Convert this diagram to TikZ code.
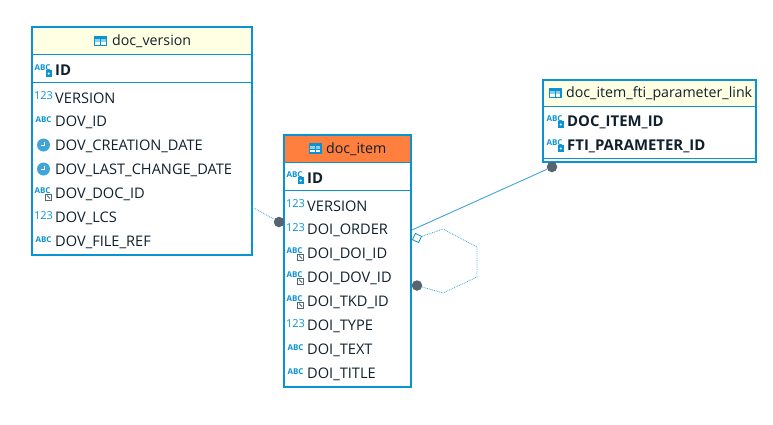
\documentclass[tikz,border=0pt]{standalone}
\usepackage{fontspec}
\setmainfont{Open Sans}
\usetikzlibrary{shapes.geometric}
\definecolor{erblue}{HTML}{0A93D1}
\definecolor{erline}{HTML}{3FA4D8}
\definecolor{eryellow}{HTML}{FFFFE3}
\definecolor{erorange}{HTML}{FF7F3F}
\definecolor{erdot}{HTML}{566470}
\definecolor{ertext}{HTML}{10202C}
\tikzset{
    box/.style={draw=erblue,line width=2pt},
    rowline/.style={draw=erblue,line width=1pt},
    field/.style={anchor=west,inner sep=0pt,text=ertext,font=\fontsize{14.6}{14}\selectfont},
    keyfield/.style={field,font=\fontsize{14.9}{14}\selectfont\bfseries},
    title/.style={inner sep=0pt,text=ertext,font=\fontsize{14.2}{14}\selectfont},
    tag/.style={inner sep=0pt,text=erblue,font=\fontsize{8}{8}\selectfont\bfseries},
    numtag/.style={inner sep=0pt,text=erblue,font=\fontsize{11}{11}\selectfont},
    link/.style={draw=erline,line width=.9pt},
    dottedlink/.style={draw=erline,line width=.8pt,densely dotted},
    enddot/.style={circle,fill=erdot,inner sep=0pt,minimum size=10.5pt},
    enddiamond/.style={diamond,draw=erblue,fill=white,line width=.8pt,inner sep=0pt,minimum size=10pt,rotate=20},
}
% small glyphs in front of the names
\newcommand{\tableicon}[1]{
    \fill[erblue] (#1) ++(-6.5,-5.5) rectangle ++(13,10.5);
    \fill[white!55!erblue] (#1) ++(-5.2,-2.5) rectangle ++(4.7,3);
    \fill[white!55!erblue] (#1) ++(.5,-2.5) rectangle ++(4.7,3);
    \fill[white] (#1) ++(-5.2,1.3) rectangle ++(4.7,2.5);
    \fill[white] (#1) ++(.5,1.3) rectangle ++(4.7,2.5);
}
\newcommand{\abcicon}[1]{\node[tag] at (#1) {ABC};}
\newcommand{\numicon}[1]{\node[numtag] at (#1) {123};}
\newcommand{\keyicon}[1]{
    \node[tag] at ([shift={(-.5,-2.5)}]#1) {ABC};
    \fill[erblue] (#1) ++(2.5,0) rectangle ++(6.5,7);
    \fill[white] (#1) ++(5.7,3.5) circle (1.2);
}
\newcommand{\fkicon}[1]{
    \node[tag] at ([shift={(-.5,-2.5)}]#1) {ABC};
    \draw[erdot,line width=1pt,fill=white] (#1) ++(2.5,1) rectangle ++(6,6);
    \draw[erdot,line width=.8pt] (#1) ++(4,2.5) -- ++(3,3);
}
\newcommand{\clockicon}[1]{
    \fill[erline] (#1) circle (6.5);
    \draw[white,line width=1pt] ([shift={(.5,-3.5)}]#1) -- ([shift={(.5,.5)}]#1) -- ([shift={(-3,.5)}]#1);
}
\begin{document}
\begin{tikzpicture}[x=1pt,y=-1pt]
    \useasboundingbox (0,0) rectangle (773,424);

    % doc_version
    \fill[eryellow] (32,27) rectangle (252,54);
    \draw[box] (32,27) rectangle (252,255);
    \draw[rowline] (32,54) -- (252,54);
    \draw[rowline] (32,82) -- (252,82);
    \coordinate (vicon) at (100.5,41);
    \tableicon{vicon}
    \node[title,anchor=west] (vtitle) at (112,41) {doc\_version};
    \coordinate (vid) at (43,70);
    \keyicon{vid}
    \node[keyfield] (vidname) at (55,70) {ID};
    \coordinate (v1) at (43.5,96);
    \numicon{v1}
    \node[field] (vversion) at (55,98) {VERSION};
    \coordinate (v2) at (43.5,120);
    \abcicon{v2}
    \node[field] (vdov) at (55,122) {DOV\_ID};
    \coordinate (v3) at (43.5,145);
    \clockicon{v3}
    \node[field] (vcreate) at (55,146) {DOV\_CREATION\_DATE};
    \coordinate (v4) at (43.5,169);
    \clockicon{v4}
    \node[field] (vchange) at (55,170) {DOV\_LAST\_CHANGE\_DATE};
    \coordinate (v5) at (43,193);
    \fkicon{v5}
    \node[field] (vdoc) at (55,194) {DOV\_DOC\_ID};
    \coordinate (v6) at (43.5,216);
    \numicon{v6}
    \node[field] (vlcs) at (55,218) {DOV\_LCS};
    \coordinate (v7) at (43.5,240);
    \abcicon{v7}
    \node[field] (vfile) at (55,242) {DOV\_FILE\_REF};

    % doc_item
    \fill[erorange] (284,135) rectangle (411,162);
    \draw[box] (284,135) rectangle (411,387);
    \draw[rowline] (284,162) -- (411,162);
    \draw[rowline] (284,190.5) -- (411,190.5);
    \coordinate (iicon) at (315,148.5);
    \tableicon{iicon}
    \node[title,anchor=west] (ititle) at (326,149) {doc\_item};
    \coordinate (iid) at (295,177);
    \keyicon{iid}
    \node[keyfield] (iidname) at (307,178) {ID};
    \coordinate (i1) at (295.5,204);
    \numicon{i1}
    \node[field] (iversion) at (307,206) {VERSION};
    \coordinate (i2) at (295.5,228);
    \numicon{i2}
    \node[field] (iorder) at (307,230) {DOI\_ORDER};
    \coordinate (i3) at (295,253);
    \fkicon{i3}
    \node[field] (idoi) at (307,254) {DOI\_DOI\_ID};
    \coordinate (i4) at (295,277);
    \fkicon{i4}
    \node[field] (idov) at (307,278) {DOI\_DOV\_ID};
    \coordinate (i5) at (295,301);
    \fkicon{i5}
    \node[field] (itkd) at (307,302) {DOI\_TKD\_ID};
    \coordinate (i6) at (295.5,324);
    \numicon{i6}
    \node[field] (itype) at (307,326) {DOI\_TYPE};
    \coordinate (i7) at (295.5,348);
    \abcicon{i7}
    \node[field] (itext) at (307,350) {DOI\_TEXT};
    \coordinate (i8) at (295.5,372);
    \abcicon{i8}
    \node[field] (ititlef) at (307,374) {DOI\_TITLE};

    % doc_item_fti_parameter_link
    \fill[eryellow] (543,79.5) rectangle (755.5,106);
    \draw[box] (543,79.5) rectangle (755.5,162);
    \draw[rowline] (543,106) -- (755.5,106);
    \draw[rowline] (543,158.5) -- (755.5,158.5);
    \coordinate (licon) at (555,93);
    \tableicon{licon}
    \node[title,anchor=west] (ltitle) at (566,93.5) {doc\_item\_fti\_parameter\_link};
    \coordinate (l1) at (555,121);
    \keyicon{l1}
    \node[keyfield] (ldoc) at (567,122) {DOC\_ITEM\_ID};
    \coordinate (l2) at (555,145);
    \keyicon{l2}
    \node[keyfield] (lfti) at (567,146) {FTI\_PARAMETER\_ID};

    % connectors
    \coordinate (vout) at (252,207);
    \node[enddot] (vend) at (279,222) {};
    \draw[dottedlink] (vout) -- (vend);

    \coordinate (iout) at (412,230);
    \node[enddot] (lend) at (552,167) {};
    \draw[link] (iout) -- (lend);

    \node[enddot] (selfend) at (417,285.5) {};
    \node[enddiamond] (selfstart) at (417,238) {};
    \coordinate (h1) at (443,229);
    \coordinate (h2) at (477,247);
    \coordinate (h3) at (477,277);
    \coordinate (h4) at (443,293);
    \draw[dottedlink] (selfstart) -- (h1) -- (h2) -- (h3) -- (h4) -- (selfend);
\end{tikzpicture}
\end{document}
